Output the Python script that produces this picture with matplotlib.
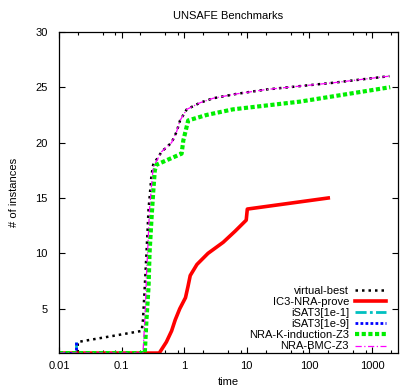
import numpy as np
import matplotlib
matplotlib.use('Agg')
import matplotlib.pyplot as plt
from matplotlib.ticker import LogLocator, FuncFormatter, NullFormatter, FixedLocator

plt.rcParams['font.family'] = ['Liberation Sans', 'DejaVu Sans']
plt.rcParams['font.size'] = 8

# данные
vb_t = [0.01, 0.02, 0.02, 0.21, 0.22, 0.23, 0.24, 0.25, 0.26, 0.27, 0.28, 0.29, 0.30,
        0.32, 0.44, 0.63, 0.76, 0.86, 1.1, 1.8, 2.9, 6.9, 21, 240, 1900]
vb_y = [1, 1, 2, 3, 4, 6, 8, 10, 12, 14, 15, 16, 17,
        18, 19.2, 20, 21, 22, 23, 23.6, 24, 24.4, 24.8, 25.4, 26]

ic3_t = [0.01, 0.4, 0.52, 0.63, 0.72, 0.85, 1.05, 1.15, 1.25, 1.6, 2.4, 4.2, 6.5, 9.8, 10.2, 200]
ic3_y = [1, 1, 2, 3, 4, 5, 6, 7, 8, 9, 10, 11, 12, 13, 14, 15]

isat1_t = [0.01, 0.019, 0.019]
isat1_y = [1, 1, 2]

isat9_t = [0.01, 0.019, 0.019]
isat9_y = [1, 1, 2]

kind_t = [0.01, 0.235, 0.25, 0.27, 0.28, 0.30, 0.32, 0.34, 0.36, 0.91, 0.97, 1.05, 1.16, 2.3, 6, 71, 1950]
kind_y = [1, 1, 4, 7, 10, 13, 15.5, 17.5, 18, 19, 20.2, 21, 22, 22.5, 23, 23.7, 25]

bmc_t = [0.01, 0.22, 0.23, 0.24, 0.25, 0.26, 0.27, 0.28, 0.29, 0.30, 0.32, 0.44, 0.63,
         0.76, 0.86, 1.1, 1.8, 2.9, 6.9, 21, 240, 1900]
bmc_y = [1, 1, 3, 5, 8, 10, 12, 14, 15, 16, 17.8, 19.2, 20,
         21, 22, 23, 23.6, 24, 24.4, 24.8, 25.4, 26]

fig = plt.figure(figsize=(4.15, 3.88), dpi=100)
ax = fig.add_axes([0.142, 0.090, 0.817, 0.828])

ax.plot(vb_t, vb_y, color='black', lw=1.8, linestyle=(0, (1, 1.6)), dash_capstyle='butt',
        label='virtual-best')
ax.plot(ic3_t, ic3_y, color='#ff0000', lw=2.6, label='IC3-NRA-prove')
ax.plot(isat1_t, isat1_y, color='#00c0c0', lw=2.0, linestyle=(0, (4, 1.2, 1, 1.2)),
        label='iSAT3[1e-1]')
ax.plot(isat9_t, isat9_y, color='#0000ff', lw=2.0, linestyle=(0, (1, 0.8)), label='iSAT3[1e-9]')
ax.plot(kind_t, kind_y, color='#00ee00', lw=3.0, linestyle=(0, (1, 0.6)), dash_capstyle='butt',
        label='NRA-K-induction-Z3')
ax.plot(bmc_t, bmc_y, color='#ff00ff', lw=0.9, linestyle=(0, (5, 2, 1, 2)), label='NRA-BMC-Z3')

ax.set_xscale('log')
ax.set_xlim(0.01, 2600)
ax.set_ylim(1, 30)
ax.xaxis.set_major_locator(FixedLocator([0.01, 0.1, 1, 10, 100, 1000]))
ax.xaxis.set_major_formatter(FuncFormatter(lambda v, p: '%g' % v))
ax.xaxis.set_minor_locator(LogLocator(base=10, subs=[2, 5, 8]))
ax.xaxis.set_minor_formatter(NullFormatter())
ax.set_yticks([5, 10, 15, 20, 25, 30])

ax.tick_params(which='major', direction='in', length=4.5, width=0.8, top=True, right=True)
ax.tick_params(axis='x', which='major', pad=6)
ax.tick_params(axis='y', which='major', pad=8)
ax.tick_params(which='minor', direction='in', length=2.5, width=0.8, top=True, right=True)
for s in ax.spines.values():
    s.set_linewidth(0.9)

ax.set_title('UNSAFE Benchmarks', fontsize=8, pad=9)
ax.set_xlabel('time', labelpad=4)
ax.set_ylabel('# of instances', labelpad=12)

ax.legend(loc='lower right', bbox_to_anchor=(0.965, 0.005), frameon=False, markerfirst=False,
          fontsize=8, labelspacing=0.1, handlelength=2.8, handletextpad=0.55,
          borderpad=0, borderaxespad=0)

plt.savefig('out.png', dpi=100)
